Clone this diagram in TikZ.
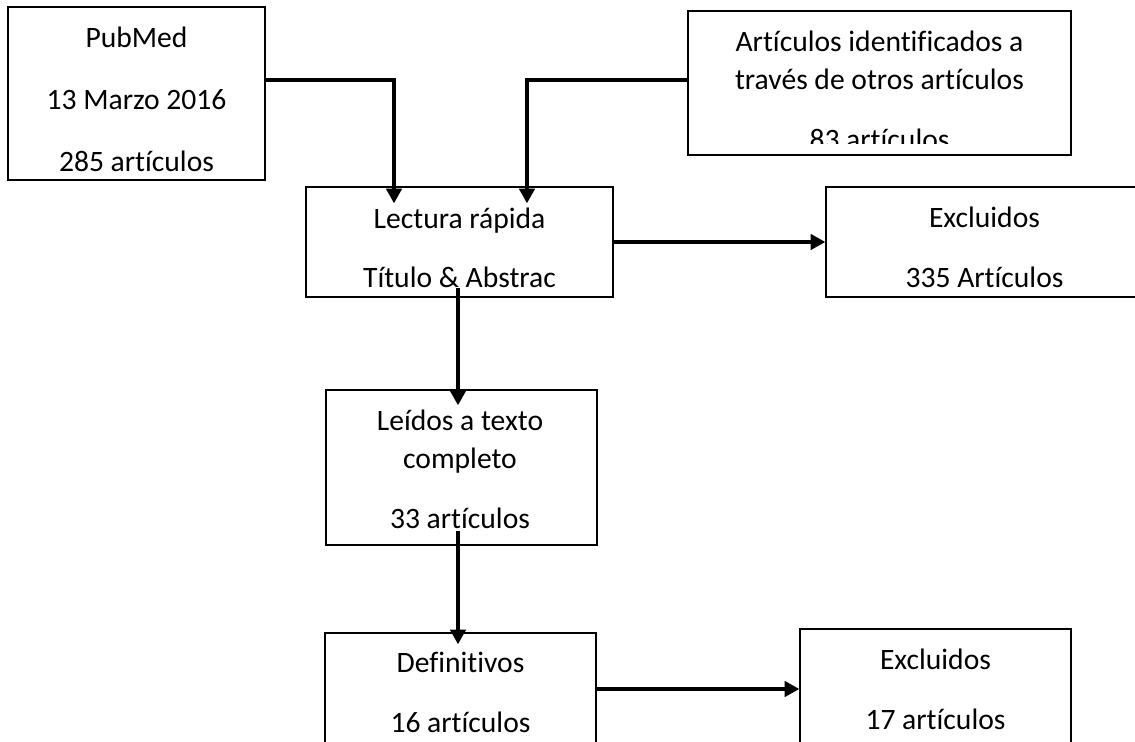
\documentclass[tikz,border=0pt]{standalone}
\usepackage{fontspec}
\setmainfont{Carlito}[Ligatures={NoCommon}]
\usetikzlibrary{calc, positioning, arrows.meta}

\begin{document}
\begin{tikzpicture}[x=0.75pt, y=-0.75pt,
    box/.style={draw, rectangle, line width=1pt, inner sep=0pt},
    txt/.style={inner sep=0pt, align=center, font=\fontsize{22.2}{28.5}\selectfont},
    flow/.style={-{Triangle[length=11pt, width=11.5pt]}, line width=2.6pt},
]
    \useasboundingbox (0,0) rectangle (1135,742);

    % Boxes
    \node[box, minimum width=192.75pt, minimum height=129.75pt] (pubmed) at (136.5,93.5) {};
    \node[box, minimum width=287.25pt, minimum height=108pt] (otros) at (879.5,83) {};
    \node[box, minimum width=230.25pt, minimum height=82.5pt] (lectura) at (459.5,242) {};
    \node[box, minimum width=237.75pt, minimum height=82.5pt] (excl1) at (984.5,242) {};
    \node[box, minimum width=203.25pt, minimum height=116.25pt] (leidos) at (461.5,467.5) {};
    \node[box, minimum width=203.25pt, minimum height=84pt] (defin) at (460.5,689) {};
    \node[box, minimum width=203.25pt, minimum height=87pt] (excl2) at (935.5,687) {};

    % Texts
    \node[txt] (pubmedtxt) at ($(pubmed)+(0,6)$) {
        PubMed\\[18pt]
        13 Marzo 2016\\[18pt]
        285 artículos
    };
    \begin{scope}
        \clip (688,11) rectangle (1071,143);
        \node[txt] (otrostxt) at ($(otros)+(0,7)$) {
            Artículos identificados a\\
            través de otros artículos\\[16.5pt]
            83 artículos
        };
    \end{scope}
    \node[txt] (lecturatxt) at ($(lectura)+(0,5.5)$) {
        Lectura rápida\\[16pt]
        Título \& Abstrac
    };
    \node[txt] (excl1txt) at ($(excl1)+(0,5)$) {
        Excluidos\\[16.5pt]
        335 Artículos
    };
    \node[txt] (leidostxt) at ($(leidos)+(-1.5,1.5)$) {
        Leídos a texto\\
        completo\\[16.5pt]
        33 artículos
    };
    \node[txt] (defintxt) at ($(defin)+(0,3)$) {
        Definitivos\\[16.5pt]
        16 artículos
    };
    \node[txt] (excl2txt) at ($(excl2)+(0,2)$) {
        Excluidos\\[16.5pt]
        17 artículos
    };

    % Arrows
    \draw[flow, shorten >=-12.75pt] ($(pubmed.east)+(0,-13.5)$) -| ($(lectura.north)+(-65.5,0)$);
    \draw[flow, shorten >=-12.75pt] ($(otros.west)+(0,-3)$) -| ($(lectura.north)+(67.5,0)$);
    \draw[flow] (lectura.east) -- (excl1.west);
    \draw[flow, shorten <=-7.5pt, shorten >=-12pt] ($(lectura.south)+(-1.5,0)$) -- ($(leidos.north)+(-3.5,0)$);
    \draw[flow, shorten <=-11pt, shorten >=-9pt] ($(leidos.south)+(-3.5,0)$) -- ($(defin.north)+(-2.5,0)$);
    \draw[flow] (defin.east) -- (defin.east -| excl2.west);

\end{tikzpicture}
\end{document}
